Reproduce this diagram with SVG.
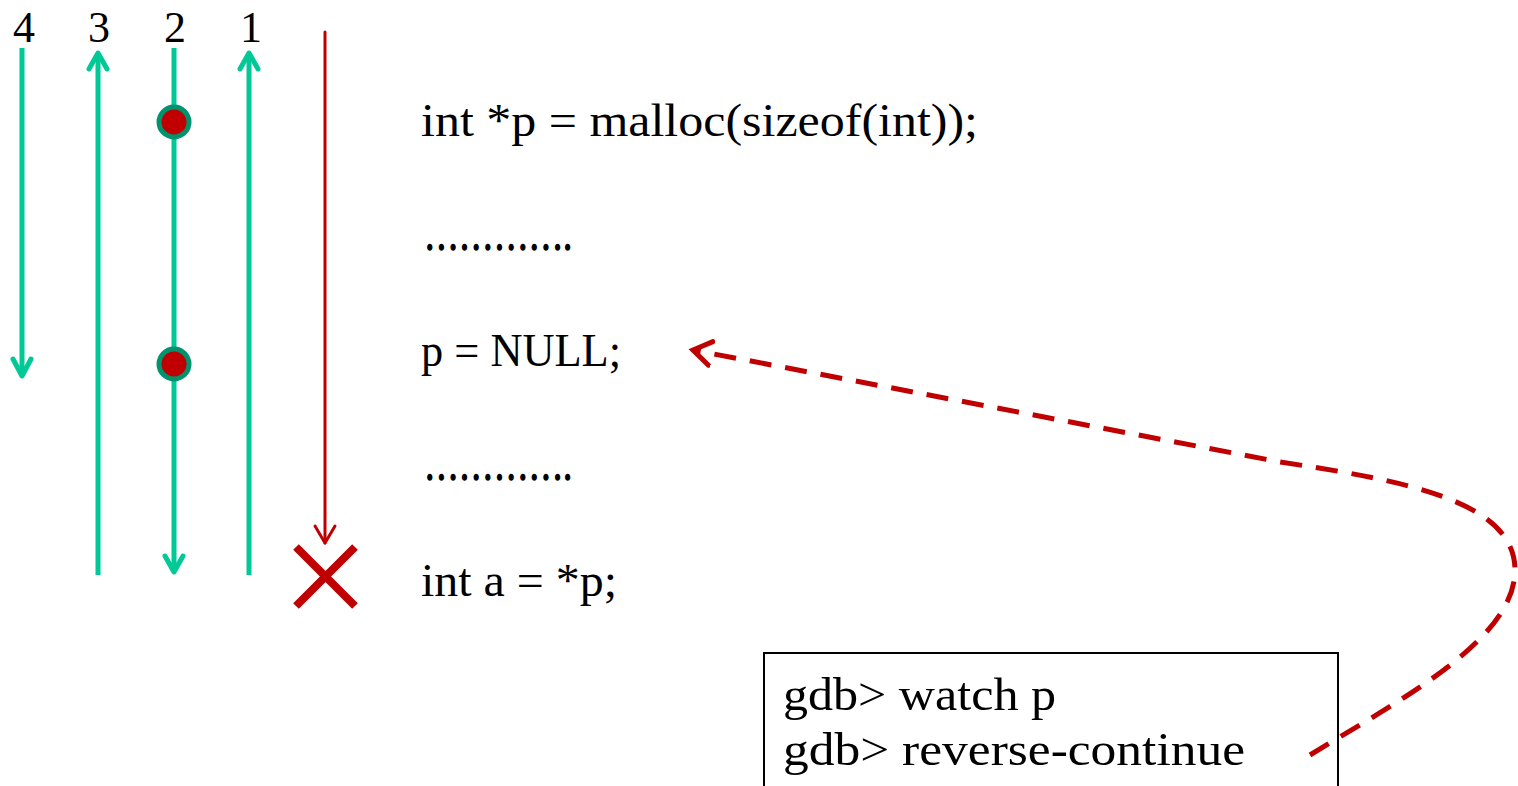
<svg xmlns="http://www.w3.org/2000/svg" width="1518" height="786" viewBox="0 0 1518 786">
<style>
.t{font-family:"Liberation Serif","DejaVu Serif",serif;font-size:46px;fill:#000}
.dots{stroke:#000;stroke-width:1.6}
.num{font-family:"Liberation Serif","DejaVu Serif",serif;font-size:44px;fill:#000;text-anchor:middle}
.g{stroke:#00C896;stroke-width:5;fill:none}
.gh{stroke:#00C896;stroke-width:5;fill:none;stroke-linecap:round;stroke-linejoin:round}
.rh{stroke:#C00000;stroke-width:3;fill:none;stroke-linecap:round;stroke-linejoin:round}
.dot{fill:#C00000;stroke:#00936E;stroke-width:5}
</style>
<defs>
<marker id="dashArrow" markerUnits="userSpaceOnUse" markerWidth="40" markerHeight="40" viewBox="-20 -20 40 40" refX="0" refY="0" orient="auto">
<path d="M-18,-12 L0,0 L-18,12" fill="none" stroke="#C00000" stroke-width="5" stroke-linecap="round" stroke-linejoin="miter"/>
</marker>
</defs>
<g id="labels">
<text class="num" x="24" y="42">4</text>
<text class="num" x="99" y="42">3</text>
<text class="num" x="175" y="42">2</text>
<text class="num" x="251" y="42">1</text>
</g>
<g id="connectors">
<g id="run4"><line class="g" x1="22" y1="48" x2="22" y2="376"/><path class="gh" d="M13,359 L22,376 L31,359"/></g>
<g id="run3"><line class="g" x1="98" y1="575" x2="98" y2="53"/><path class="gh" d="M89,69 L98,53 L107,69"/></g>
<g id="run2"><line class="g" x1="174" y1="48" x2="174" y2="572"/><path class="gh" d="M165,556 L174,572 L183,556"/></g>
<g id="run1"><line class="g" x1="249" y1="575" x2="249" y2="53"/><path class="gh" d="M240,69 L249,53 L258,69"/></g>
<g id="runRed"><line class="rh" x1="325" y1="32" x2="325" y2="543"/><path class="rh" d="M315,526 L325,543 L335,526"/></g>
<path id="reverseArrow" d="M1310,755 C1400,700 1515,640 1515,570 C1515,500 1400,480 1280,462 L693,350" fill="none" stroke="#C00000" stroke-width="5" stroke-dasharray="22,14" marker-end="url(#dashArrow)"/>
</g>
<g id="breakpoint1"><circle class="dot" cx="174" cy="122" r="15"/></g>
<g id="breakpoint2"><circle class="dot" cx="174" cy="364" r="15"/></g>
<g id="crash"><path d="M296,547 L355,606 M355,547 L296,606" stroke="#C00000" stroke-width="8" fill="none"/></g>
<g id="code">
<text class="t" x="421" y="136" textLength="557" lengthAdjust="spacingAndGlyphs">int *p = malloc(sizeof(int));</text>
<text class="t dots" x="424" y="250" textLength="148" lengthAdjust="spacingAndGlyphs">&#8230;&#8230;&#8230;&#8230;.</text>
<text class="t" x="421" y="366" textLength="200" lengthAdjust="spacingAndGlyphs">p = NULL;</text>
<text class="t dots" x="424" y="480" textLength="148" lengthAdjust="spacingAndGlyphs">&#8230;&#8230;&#8230;&#8230;.</text>
<text class="t" x="421" y="596" textLength="196" lengthAdjust="spacingAndGlyphs">int a = *p;</text>
</g>
<g id="gdbBox">
<rect x="764" y="653" width="574" height="160" fill="none" stroke="#000" stroke-width="2"/>
<text class="t" x="783" y="710" textLength="273" lengthAdjust="spacingAndGlyphs">gdb&gt; watch p</text>
<text class="t" x="783" y="765" textLength="462" lengthAdjust="spacingAndGlyphs">gdb&gt; reverse-continue</text>
</g>
</svg>
